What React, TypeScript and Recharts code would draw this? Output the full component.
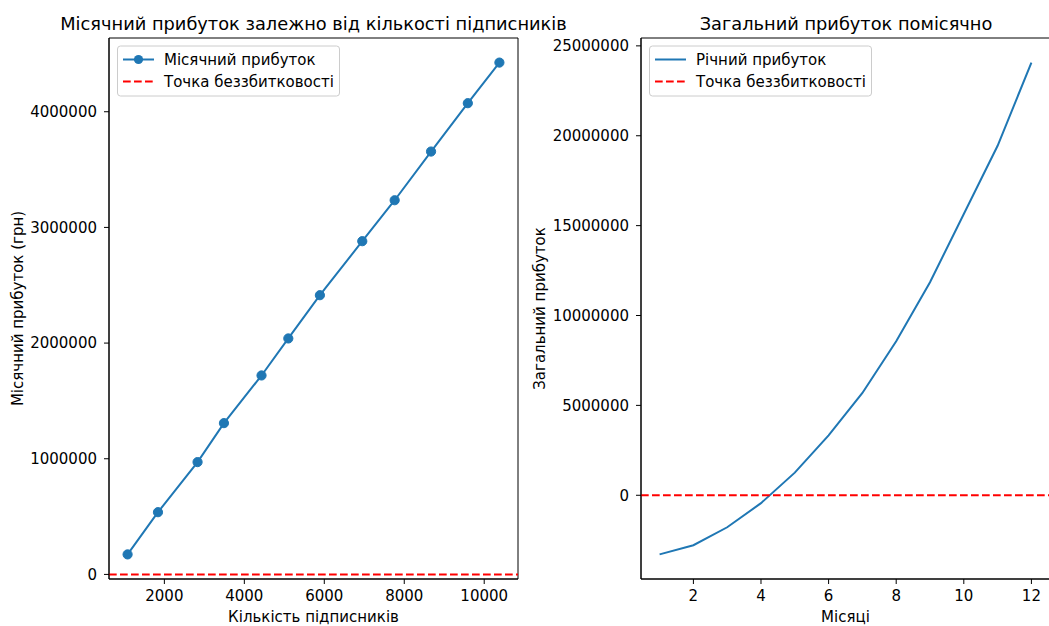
import React from "react";
import {
  LineChart,
  Line,
  XAxis,
  YAxis,
  ReferenceLine,
  ReferenceArea,
} from "recharts";

// Left panel: monthly profit vs. subscriber count
const subscribers = [1080, 1840, 2830, 3490, 4430, 5100, 5890, 6950, 7760, 8670, 9590, 10380];
const monthlyProfit = [
  173000, 538000, 971000, 1308000, 1720000, 2040000, 2414000, 2881000, 3235000, 3656000,
  4074000, 4425000,
];

// Right panel: cumulative profit by month
const months = [1, 2, 3, 4, 5, 6, 7, 8, 9, 10, 11, 12];
const totalProfit = [
  -3290000, -2780000, -1780000, -440000, 1260000, 3330000, 5690000, 8570000, 11850000,
  15650000, 19440000, 24070000,
];

const breakEven = 0;

const leftXTicks = [2000, 4000, 6000, 8000, 10000];
const leftYTicks = [0, 1000000, 2000000, 3000000, 4000000];
const rightXTicks = [2, 4, 6, 8, 10, 12];
const rightYTicks = [0, 5000000, 10000000, 15000000, 20000000, 25000000];

const BLUE = "#1f77b4";
const RED = "#ff0000";
const FONT = "DejaVu Sans, sans-serif";
const DASH = "7.7 3.3";

// matplotlib-style 5% margins
const padded = (vals: number[]): [number, number] => {
  const lo = Math.min(...vals);
  const hi = Math.max(...vals);
  const d = (hi - lo) * 0.05;
  return [lo - d, hi + d];
};

const leftData = subscribers.map((x, i) => ({ x, y: monthlyProfit[i] }));
const rightData = months.map((x, i) => ({ x, y: totalProfit[i] }));

const lxDom = padded(subscribers);
const lyDom = padded(monthlyProfit);
const rxDom = padded(months);
const ryDom = padded(totalProfit);

const tickStyle = { fill: "#000", fontSize: 15, fontFamily: FONT };
const labelStyle = { fill: "#000", fontSize: 15, fontFamily: FONT };

function LegendBox({
  x,
  first,
  withDot,
}: {
  x: number;
  first: string;
  withDot: boolean;
}) {
  return (
    <g>
      <rect
        x={x + 0.5}
        y={46}
        width={222}
        height={50}
        rx={3}
        fill="#fff"
        fillOpacity={0.8}
        stroke="#cccccc"
        strokeWidth={1}
      />
      <line x1={x + 6} x2={x + 37} y1={59.5} y2={59.5} stroke={BLUE} strokeWidth={2} />
      {withDot && <circle cx={x + 21.5} cy={59.5} r={4.6} fill={BLUE} />}
      <text x={x + 47} y={64.5} fontSize={15} fontFamily={FONT} fill="#000">
        {first}
      </text>
      <line
        x1={x + 6}
        x2={x + 37}
        y1={81.5}
        y2={81.5}
        stroke={RED}
        strokeWidth={2}
        strokeDasharray={DASH}
      />
      <text x={x + 47} y={86.5} fontSize={15} fontFamily={FONT} fill="#000">
        Точка беззбитковості
      </text>
    </g>
  );
}

export default function App() {
  return (
    <div
      style={{
        position: "absolute",
        left: 0,
        top: 0,
        width: 1049,
        height: 626,
        overflow: "hidden",
        background: "#fff",
        fontFamily: FONT,
      }}
    >
      <div style={{ position: "absolute", left: 0, top: 0 }}>
        <LineChart
          width={530}
          height={626}
          data={leftData}
          margin={{ top: 38, right: 12, bottom: 0, left: 0 }}
        >
          <XAxis
            dataKey="x"
            type="number"
            domain={lxDom}
            ticks={leftXTicks}
            height={47}
            tickSize={5}
            tickMargin={6}
            stroke="#000"
            tick={tickStyle}
            label={{ value: "Кількість підписників", position: "insideBottom", offset: 4, style: labelStyle }}
          />
          <YAxis
            dataKey="y"
            type="number"
            domain={lyDom}
            ticks={leftYTicks}
            width={109}
            tickSize={5}
            tickMargin={7}
            stroke="#000"
            tick={tickStyle}
            label={{
              value: "Місячний прибуток (грн)",
              angle: -90,
              position: "insideLeft",
              offset: 18,
              style: { ...labelStyle, textAnchor: "middle" },
            }}
          />
          <ReferenceArea
            x1={lxDom[0]}
            x2={lxDom[1]}
            y1={lyDom[0]}
            y2={lyDom[1]}
            fill="none"
            stroke="#000"
            strokeWidth={1}
            ifOverflow="visible"
          />
          <Line
            dataKey="y"
            stroke={BLUE}
            strokeWidth={2}
            dot={{ r: 4.6, fill: BLUE, stroke: BLUE, strokeWidth: 1 }}
            isAnimationActive={false}
          />
          <ReferenceLine y={breakEven} stroke={RED} strokeWidth={2} strokeDasharray={DASH} />
        </LineChart>
      </div>

      <div style={{ position: "absolute", left: 530, top: 0 }}>
        <LineChart
          width={521}
          height={626}
          data={rightData}
          margin={{ top: 38, right: 1, bottom: 0, left: 0 }}
        >
          <XAxis
            dataKey="x"
            type="number"
            domain={rxDom}
            ticks={rightXTicks}
            height={47}
            tickSize={5}
            tickMargin={6}
            stroke="#000"
            tick={tickStyle}
            label={{ value: "Місяці", position: "insideBottom", offset: 4, style: labelStyle }}
          />
          <YAxis
            dataKey="y"
            type="number"
            domain={ryDom}
            ticks={rightYTicks}
            width={111}
            tickSize={5}
            tickMargin={7}
            stroke="#000"
            tick={tickStyle}
            label={{
              value: "Загальний прибуток",
              angle: -90,
              position: "insideLeft",
              offset: 10,
              style: { ...labelStyle, textAnchor: "middle" },
            }}
          />
          <ReferenceArea
            x1={rxDom[0]}
            x2={rxDom[1]}
            y1={ryDom[0]}
            y2={ryDom[1]}
            fill="none"
            stroke="#000"
            strokeWidth={1}
            ifOverflow="visible"
          />
          <Line
            dataKey="y"
            stroke={BLUE}
            strokeWidth={2}
            dot={false}
            isAnimationActive={false}
          />
          <ReferenceLine y={breakEven} stroke={RED} strokeWidth={2} strokeDasharray={DASH} />
        </LineChart>
      </div>

      <svg
        width={1049}
        height={626}
        style={{ position: "absolute", left: 0, top: 0, pointerEvents: "none" }}
      >
        <text x={313.5} y={30} textAnchor="middle" fontSize={17.8} fontFamily={FONT} fill="#000">
          Місячний прибуток залежно від кількості підписників
        </text>
        <text x={846} y={30} textAnchor="middle" fontSize={17.8} fontFamily={FONT} fill="#000">
          Загальний прибуток помісячно
        </text>
        <LegendBox x={117} first="Місячний прибуток" withDot />
        <LegendBox x={649} first="Річний прибуток" withDot={false} />
      </svg>
    </div>
  );
}
